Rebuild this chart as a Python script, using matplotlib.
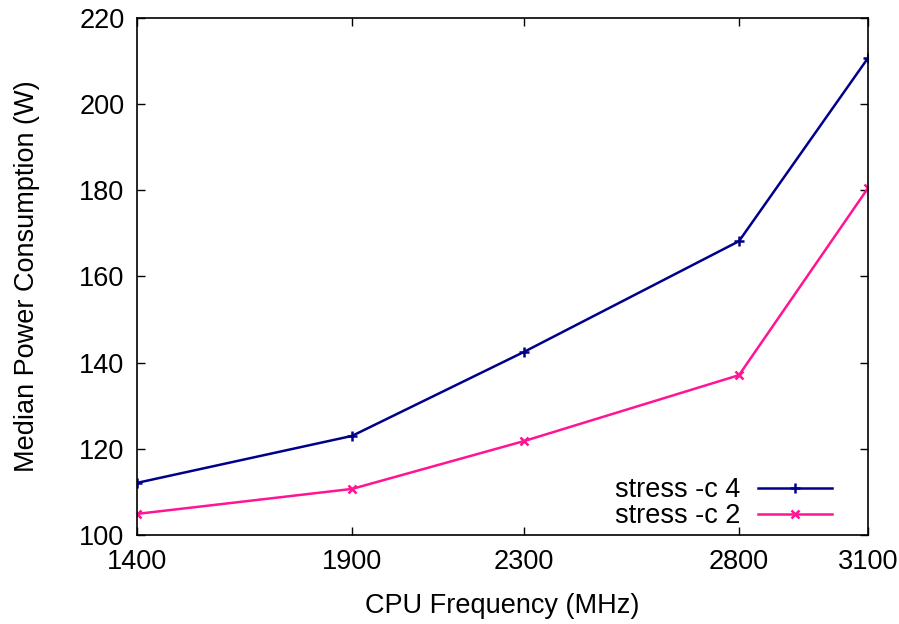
import matplotlib
matplotlib.use("Agg")
import matplotlib.pyplot as plt

freqs = [1400, 1900, 2300, 2800, 3100]
stress_c4 = [112.1, 123.0, 142.5, 168.2, 210.7]
stress_c2 = [104.9, 110.7, 121.8, 137.1, 180.5]
yticks = [100, 120, 140, 160, 180, 200, 220]

plt.rcParams['font.family'] = ['Liberation Sans', 'DejaVu Sans']
fig = plt.figure(figsize=(8.99, 6.24), dpi=100)
ax = fig.add_axes([0.1524, 0.1426, 0.8131, 0.8286])

ax.plot(freqs, stress_c4, color='#00008b', lw=1.8, marker='+', ms=7, mew=1.8, label='stress -c 4')
ax.plot(freqs, stress_c2, color='#ff1493', lw=1.8, marker='x', ms=6, mew=1.8, label='stress -c 2')

ax.set_xlim(1400, 3100)
ax.set_ylim(100, 220)
ax.set_xticks(freqs)
ax.set_yticks(yticks)
ax.tick_params(direction='in', length=6, width=1, top=True, right=True, labelsize=19.5, colors='black')
ax.tick_params(axis='x', pad=10)
ax.tick_params(axis='y', pad=9)
for s in ax.spines.values():
    s.set_linewidth(1.2)
ax.set_xlabel('CPU Frequency (MHz)', fontsize=19.5, labelpad=13)
ax.set_ylabel('Median Power Consumption (W)', fontsize=19.5, labelpad=28)

leg = ax.legend(loc='lower right', frameon=False, markerfirst=False, fontsize=19.5,
                handlelength=2.75, handletextpad=0.65, labelspacing=0.0,
                bbox_to_anchor=(0.966, -0.01), borderaxespad=0)

fig.savefig('out.png', dpi=100)
